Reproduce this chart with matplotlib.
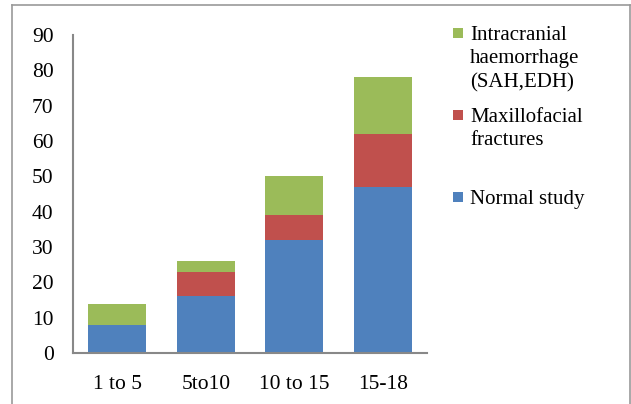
import matplotlib.pyplot as plt
from matplotlib.patches import Rectangle
from matplotlib.lines import Line2D

plt.rcParams['font.family'] = ['Liberation Serif', 'DejaVu Serif']

# Age groups and case counts per finding
age_groups = ['1 to 5', '5to10', '10 to 15', '15-18']
normal_study = [8, 16, 32, 47]
maxillofacial = [0, 7, 7, 15]
intracranial = [6, 3, 11, 16]

series_names = ['Intracranial\nhaemorrhage\n(SAH,EDH)', 'Maxillofacial\nfractures', 'Normal study']
colors = {'blue': '#4F81BD', 'red': '#C0504D', 'green': '#9BBB59'}

fig = plt.figure(figsize=(6.31, 4.04), dpi=100)
ax = fig.add_axes([0.1157, 0.1262, 0.561, 0.7872])

x = range(len(age_groups))
w = 0.65
bottom2 = normal_study
bottom3 = [a + b for a, b in zip(normal_study, maxillofacial)]
ax.bar(x, normal_study, w, color=colors['blue'], edgecolor='none')
ax.bar(x, maxillofacial, w, bottom=bottom2, color=colors['red'], edgecolor='none')
ax.bar(x, intracranial, w, bottom=bottom3, color=colors['green'], edgecolor='none')

ax.set_xlim(-0.5, len(age_groups) - 0.5)
ax.set_ylim(0, 90)
ax.set_yticks(range(0, 91, 10))
ax.set_xticks(list(x))
ax.set_xticklabels(age_groups)
ax.tick_params(axis='both', length=0, labelsize=15.5)
ax.tick_params(axis='y', pad=14)
ax.tick_params(axis='x', pad=16)

for s in ['top', 'right']:
    ax.spines[s].set_visible(False)
for s in ['left', 'bottom']:
    ax.spines[s].set_color('#888888')
    ax.spines[s].set_linewidth(1.5)

# legend drawn by hand so the squares sit on the first text line
W, H = 631, 404
legend_items = [(series_names[0], colors['green'], 33),
                (series_names[1], colors['red'], 115),
                (series_names[2], colors['blue'], 197)]
for label, c, yc in legend_items:
    fig.add_artist(Rectangle((453 / W, 1 - (yc + 5) / H), 10 / W, 10 / H,
                             transform=fig.transFigure, color=c, lw=0))
    fig.text(470 / W, 1 - (yc - 7) / H, label, fontsize=15, va='top', ha='left',
             linespacing=1.32)

# outer frame
frame = dict(color='#999999', lw=1.2, transform=fig.transFigure)
fig.add_artist(Line2D([12 / W, 12 / W], [0, 1 - 5 / H], **frame))
fig.add_artist(Line2D([12 / W, 630 / W], [1 - 5 / H, 1 - 5 / H], **frame))
fig.add_artist(Line2D([630 / W, 630 / W], [0, 1 - 5 / H], **frame))

fig.savefig('out.png', dpi=100)
